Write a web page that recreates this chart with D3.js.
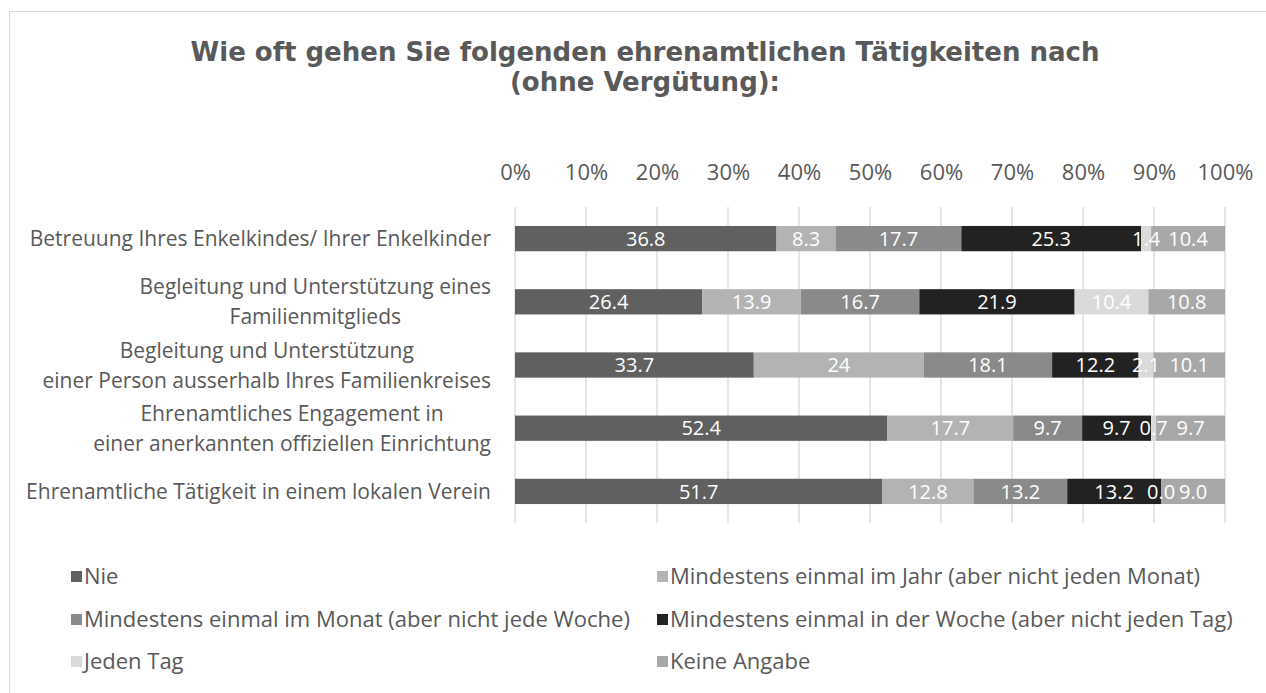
<!DOCTYPE html>
<html>
<head>
<meta charset="utf-8">
<script src="https://cdn.jsdelivr.net/npm/d3@7"></script>
<style>
  body { margin: 0; background: #fff; }
  text { font-family: 'Open Sans', 'Noto Sans', sans-serif; }
</style>
</head>
<body>
<script>
// categories (top to bottom) and the series, values as printed on the bars
var categories = [
  ['Betreuung Ihres Enkelkindes/ Ihrer Enkelkinder'],
  ['Begleitung und Unterstützung eines', 'Familienmitglieds'],
  ['Begleitung und Unterstützung', 'einer Person ausserhalb Ihres Familienkreises'],
  ['Ehrenamtliches Engagement in', 'einer anerkannten offiziellen Einrichtung'],
  ['Ehrenamtliche Tätigkeit in einem lokalen Verein']
]
var seriesNames = [
  'Nie',
  'Mindestens einmal im Jahr (aber nicht jeden Monat)',
  'Mindestens einmal im Monat (aber nicht jede Woche)',
  'Mindestens einmal in der Woche (aber nicht jeden Tag)',
  'Jeden Tag',
  'Keine Angabe'
]
var nie = ['36.8', '26.4', '33.7', '52.4', '51.7']
var jahr = ['8.3', '13.9', '24', '17.7', '12.8']
var monat = ['17.7', '16.7', '18.1', '9.7', '13.2']
var woche = ['25.3', '21.9', '12.2', '9.7', '13.2']
var jedenTag = ['1.4', '10.4', '2.1', '0.7', '0.0']
var keineAngabe = ['10.4', '10.8', '10.1', '9.7', '9.0']
var tickValues = [0, 0.1, 0.2, 0.3, 0.4, 0.5, 0.6, 0.7, 0.8, 0.9, 1]
var colors = ['#606060', '#b3b3b3', '#8a8a8a', '#222222', '#dadada', '#a8a8a8']

var width = 1266
var height = 693
var margin = { left: 515, top: 207, right: 41, bottom: 170 }
var innerWidth = width - margin.left - margin.right
var innerHeight = height - margin.top - margin.bottom

var seriesValues = [nie, jahr, monat, woche, jedenTag, keineAngabe]
var keys = categories.map(c => c.join(' '))
var table = keys.map((k, i) => {
  var row = { key: k }
  seriesNames.forEach((s, j) => { row[s] = +seriesValues[j][i] })
  return row
})
var stacked = d3.stack().keys(seriesNames).offset(d3.stackOffsetExpand)(table)

var svg = d3.select('body').append('svg').attr('width', width).attr('height', height)

// chart frame
svg.append('rect').attr('x', 9.5).attr('y', 11.5).attr('width', width + 10).attr('height', height + 10)
  .attr('fill', 'none').attr('stroke', '#d9d9d9').attr('stroke-width', 1)

svg.append('text').attr('x', 645).attr('y', 61).attr('text-anchor', 'middle')
  .attr('fill', '#595959').attr('font-weight', 'bold').attr('font-size', 26)
  .style('font-family', "'DejaVu Sans', Verdana, sans-serif")
  .selectAll('tspan').data(['Wie oft gehen Sie folgenden ehrenamtlichen Tätigkeiten nach', '(ohne Vergütung):'])
  .enter().append('tspan').attr('x', 645).attr('dy', (d, i) => i ? 30 : 0).text(d => d)

var g = svg.append('g').attr('transform', `translate(${margin.left},${margin.top})`)

var xScale = d3.scaleLinear().domain([0, 1]).range([0, innerWidth])
var yScale = d3.scaleBand().domain(keys).range([0, innerHeight]).paddingInner(0.6).paddingOuter(0.3)

// gridlines
g.append('g').selectAll('line').data(tickValues).enter().append('line')
  .attr('x1', d => xScale(d)).attr('x2', d => xScale(d))
  .attr('y1', 0).attr('y2', innerHeight)
  .attr('stroke', '#d9d9d9').attr('stroke-width', 1.3)

var xAxis = d3.axisTop(xScale).tickValues(tickValues).tickFormat(d3.format('.0%')).tickSize(0).tickPadding(27)
var ax = g.append('g').call(xAxis)
ax.select('.domain').remove()
ax.selectAll('text').attr('fill', '#595959').attr('font-size', 22)

var layers = g.selectAll('.layer').data(stacked).enter().append('g')
  .attr('class', 'layer').attr('fill', (d, i) => colors[i])

layers.selectAll('rect').data(d => d).enter().append('rect')
  .attr('x', d => xScale(d[0])).attr('width', d => xScale(d[1]) - xScale(d[0]))
  .attr('y', d => yScale(d.data.key)).attr('height', yScale.bandwidth())

// data labels on top of all bars
var labelG = g.append('g')
stacked.forEach((s, j) => {
  labelG.append('g').selectAll('text').data(s).enter().append('text')
    .attr('x', d => (xScale(d[0]) + xScale(d[1])) / 2)
    .attr('y', d => yScale(d.data.key) + yScale.bandwidth() / 2)
    .attr('dy', '0.36em').attr('text-anchor', 'middle')
    .attr('fill', '#fff').attr('font-size', 20)
    .text((d, i) => seriesValues[j][i])
})

// category labels, lines centred inside a right-aligned block
var labelRight = -24
var catG = g.append('g')
categories.forEach((lines, i) => {
  var t = catG.append('text').attr('fill', '#595959').attr('font-size', 21).attr('text-anchor', 'middle')
  var cy = yScale(keys[i]) + yScale.bandwidth() / 2
  lines.forEach((l, k) => {
    t.append('tspan').attr('y', cy + (k - (lines.length - 1) / 2) * 30).attr('dy', '0.36em').text(l)
  })
  var w = d3.max(t.selectAll('tspan').nodes(), n => n.getComputedTextLength())
  t.selectAll('tspan').attr('x', labelRight - w / 2)
})

// legend
var legendPos = [[71, 576], [657, 576], [71, 619], [657, 619], [71, 661], [657, 661]]
var legend = svg.append('g').selectAll('g').data(seriesNames).enter().append('g')
  .attr('transform', (d, i) => `translate(${legendPos[i][0]},${legendPos[i][1]})`)
legend.append('rect').attr('x', 0).attr('y', -5).attr('width', 11).attr('height', 11).attr('fill', (d, i) => colors[i])
legend.append('text').attr('x', 13).attr('dy', '0.36em').attr('fill', '#595959').attr('font-size', 22).text(d => d)
</script>
</body>
</html>
